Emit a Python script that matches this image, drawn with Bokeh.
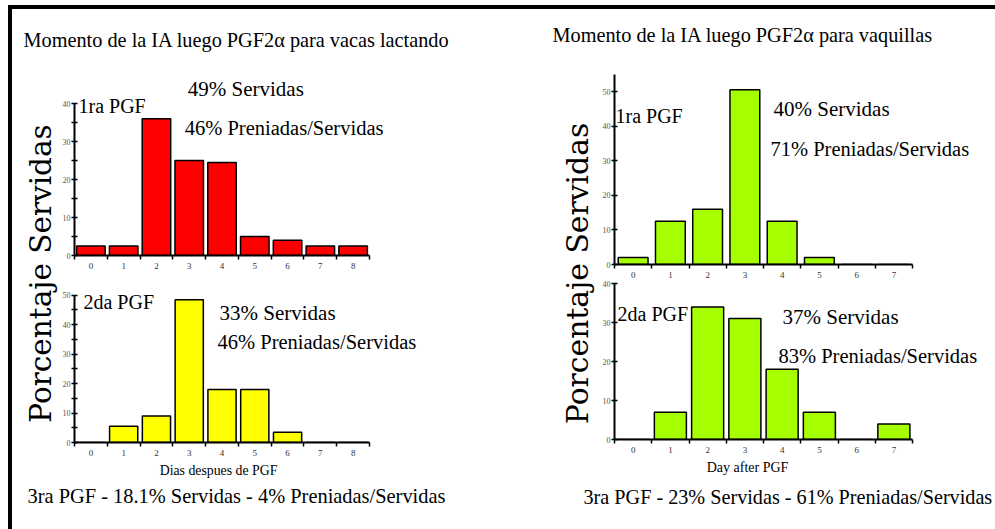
import math
from bokeh.plotting import figure
from bokeh.layouts import column, row
from bokeh.models import Range1d, FixedTicker, Div, Spacer
from bokeh.core.properties import value
from bokeh.embed import file_html
from bokeh.resources import INLINE

SERIF = "Liberation Serif"
WIDE_SERIF = "DejaVu Serif"

# ---------------- data ----------------
dias_lact = [0, 1, 2, 3, 4, 5, 6, 7, 8]
lact_1ra_pct = [2.5, 2.5, 36, 25, 24.5, 5, 4, 2.5, 2.5]
lact_2da_pct = [0, 5.5, 9, 48.5, 18, 18, 3.5, 0, 0]
dias_vaq = [0, 1, 2, 3, 4, 5, 6, 7]
vaq_1ra_pct = [2, 12.5, 16, 50.5, 12.5, 2, 0, 0]
vaq_2da_pct = [0, 7, 34, 31, 18, 7, 0, 4]

lact_1ra_yticks = [0, 10, 20, 30, 40]
lact_2da_yticks = [0, 10, 20, 30, 40, 50]
vaq_1ra_yticks = [0, 10, 20, 30, 40, 50]
vaq_2da_yticks = [0, 10, 20, 30, 40]

title_lact = "Momento de la IA luego PGF2\u03b1 para vacas lactando"
title_vaq = "Momento de la IA luego PGF2\u03b1 para vaquillas"
ylabel_text = "Porcentaje Servidas"
xlabel_lact = "Dias despues de PGF"
xlabel_vaq = "Day after PGF"
lact_1ra_notes = ["1ra PGF", "49% Servidas", "46% Preniadas/Servidas"]
lact_2da_notes = ["2da PGF", "33% Servidas", "46% Preniadas/Servidas"]
vaq_1ra_notes = ["1ra PGF", "40% Servidas", "71% Preniadas/Servidas"]
vaq_2da_notes = ["2da PGF", "37% Servidas", "83% Preniadas/Servidas"]
lact_3ra_note = "3ra PGF - 18.1% Servidas - 4% Preniadas/Servidas"
vaq_3ra_note = "3ra PGF - 23% Servidas - 61% Preniadas/Servidas"

RED = "#ff0000"
YELLOW = "#ffff00"
GREEN = "#a6ff00"


# ---------------- helpers (page coordinates: px from top-left) ----------------
class TextFig:
    def __init__(self, px0, py0, w, h):
        self.px0, self.py0, self.w, self.h = px0, py0, w, h
        p = figure(width=w, height=h, x_range=Range1d(0, w), y_range=Range1d(0, h),
                   x_axis_type=None, y_axis_type=None,
                   min_border=0, min_border_left=0, min_border_right=0,
                   min_border_top=0, min_border_bottom=0,
                   output_backend="svg", toolbar_location=None)
        p.frame_align = False
        p.outline_line_color = None
        p.background_fill_color = "white"
        p.border_fill_color = "white"
        self.p = p

    def text(self, X, Y, txt, size, align="left", font=SERIF, angle=0.0):
        self.p.text(x=[X - self.px0], y=[self.h - (Y - self.py0)], text=[txt],
                    text_font=value(font), text_font_size=f"{size}px",
                    text_align=align, text_baseline="middle", angle=angle,
                    text_color="black")


class Chart:
    def __init__(self, px0, py0, w, h, left_border, bottom_border, px_bin, px_unit,
                 days, vals, color, bar_w, yticks, yminor, ytop):
        self.frame_left = px0 + left_border
        self.baseline = py0 + h - bottom_border
        self.px_bin, self.px_unit = px_bin, px_unit
        frame_w = w - left_border
        frame_h = h - bottom_border
        p = figure(width=w, height=h,
                   x_range=Range1d(-0.5, -0.5 + frame_w / px_bin),
                   y_range=Range1d(0, frame_h / px_unit),
                   min_border_left=left_border, min_border_right=0,
                   min_border_top=0, min_border_bottom=bottom_border,
                   output_backend="svg", toolbar_location=None)
        p.frame_align = False
        p.outline_line_color = None
        p.xgrid.visible = False
        p.ygrid.visible = False
        p.background_fill_color = "white"
        p.border_fill_color = "white"
        p.vbar(x=days, top=vals, bottom=0, width=bar_w, fill_color=color,
               line_color="black", line_width=1.5)
        xa = p.xaxis[0]
        xa.ticker = FixedTicker(ticks=days,
                                minor_ticks=[d - 0.5 for d in days] + [days[-1] + 0.5])
        xa.bounds = (days[0] - 0.5, days[-1] + 0.5)
        xa.axis_line_width = 2
        xa.major_tick_out = 0
        xa.major_tick_in = 0
        xa.minor_tick_out = 4
        xa.minor_tick_in = 0
        xa.minor_tick_line_width = 1.5
        xa.major_label_standoff = 3
        xa.major_label_text_font = SERIF
        xa.major_label_text_font_size = "9px"
        xa.major_label_text_color = "#333333"
        ya = p.yaxis[0]
        ya.ticker = FixedTicker(ticks=yticks, minor_ticks=yminor)
        ya.bounds = (0, ytop)
        ya.axis_line_width = 2
        ya.major_tick_out = 3
        ya.major_tick_in = 3
        ya.minor_tick_out = 3
        ya.minor_tick_in = 3
        ya.major_tick_line_width = 1.5
        ya.minor_tick_line_width = 1.5
        ya.major_label_standoff = 1
        ya.major_label_text_font = SERIF
        ya.major_label_text_font_size = "8px"
        ya.major_label_text_color = "#555555"
        self.p = p

    def text(self, X, Y, txt, size, align="left", font=SERIF):
        x = -0.5 + (X - self.frame_left) / self.px_bin
        y = (self.baseline - Y) / self.px_unit
        self.p.text(x=[x], y=[y], text=[txt], text_font=value(font),
                    text_font_size=f"{size}px", text_align=align,
                    text_baseline="middle", text_color="black")


# ---------------- left half (vacas lactando) ----------------
tl = TextFig(12, 9, 508, 59)
tl.text(23, 39, title_lact, 20.3)

yl_l = TextFig(12, 68, 47, 390)
yl_l.text(40, 273, ylabel_text, 29.5, align="center", font=WIDE_SERIF, angle=math.pi / 2)

c1l = Chart(59, 68, 461, 204, 12, 17, 33, 3.8, dias_lact, lact_1ra_pct, RED, 0.87,
            lact_1ra_yticks, [5, 15, 25, 35], 40)
c1l.text(75, 105, lact_1ra_notes[0], 20)
c1l.text(185, 88, lact_1ra_notes[1], 21)
c1l.text(182, 127, lact_1ra_notes[2], 20.5)

c2l = Chart(59, 272, 461, 186, 12, 14, 33, 2.98, dias_lact, lact_2da_pct, YELLOW, 0.86,
            lact_2da_yticks, [5, 15, 25, 35, 45], 50)
c2l.text(80, 302, lact_2da_notes[0], 20)
c2l.text(217, 313, lact_2da_notes[1], 21)
c2l.text(215, 342, lact_2da_notes[2], 20.5)

fl = TextFig(12, 458, 508, 71)
fl.text(218, 470, xlabel_lact, 13.8, align="center")
fl.text(27, 495, lact_3ra_note, 20.4)

left_col = column(tl.p, row(yl_l.p, column(c1l.p, c2l.p)), fl.p)

# ---------------- right half (vaquillas) ----------------
tr = TextFig(520, 9, 475, 59)
tr.text(552, 34, title_vaq, 20.3)

yl_r = TextFig(520, 68, 78, 392)
yl_r.text(577, 273, ylabel_text, 29.8, align="center", font=WIDE_SERIF, angle=math.pi / 2)

c1r = Chart(598, 68, 397, 212, 16, 16, 37.25, 3.46, dias_vaq, vaq_1ra_pct, GREEN, 0.8,
            vaq_1ra_yticks, [], 55)
c1r.text(615, 115, vaq_1ra_notes[0], 20)
c1r.text(773, 108, vaq_1ra_notes[1], 21)
c1r.text(770, 148, vaq_1ra_notes[2], 20.5)

c2r = Chart(598, 280, 397, 180, 16, 21, 37.25, 3.9, dias_vaq, vaq_2da_pct, GREEN, 0.86,
            vaq_2da_yticks, [], 40)
c2r.text(617, 313, vaq_2da_notes[0], 20)
c2r.text(782, 316, vaq_2da_notes[1], 21)
c2r.text(778, 355, vaq_2da_notes[2], 20.5)

fr = TextFig(520, 460, 475, 69)
fr.text(747, 467, xlabel_vaq, 14, align="center")
fr.text(583, 496, vaq_3ra_note, 20.2)

right_col = column(tr.p, row(yl_r.p, column(c1r.p, c2r.p)), fr.p)

# ---------------- frame lines (top and left rules) ----------------
top_gap = Spacer(width=995, height=5, margin=0)
top_rule = row(Spacer(width=8, height=4, margin=0),
               Div(width=987, height=4, margin=0, styles={"background-color": "black"}))
left_gap = Spacer(width=8, height=520, margin=0)
left_rule = Div(width=4, height=520, margin=0, styles={"background-color": "black"})

page = column(top_gap, top_rule, row(left_gap, left_rule, left_col, right_col))

open("out.html", "w").write(file_html(page, INLINE))
